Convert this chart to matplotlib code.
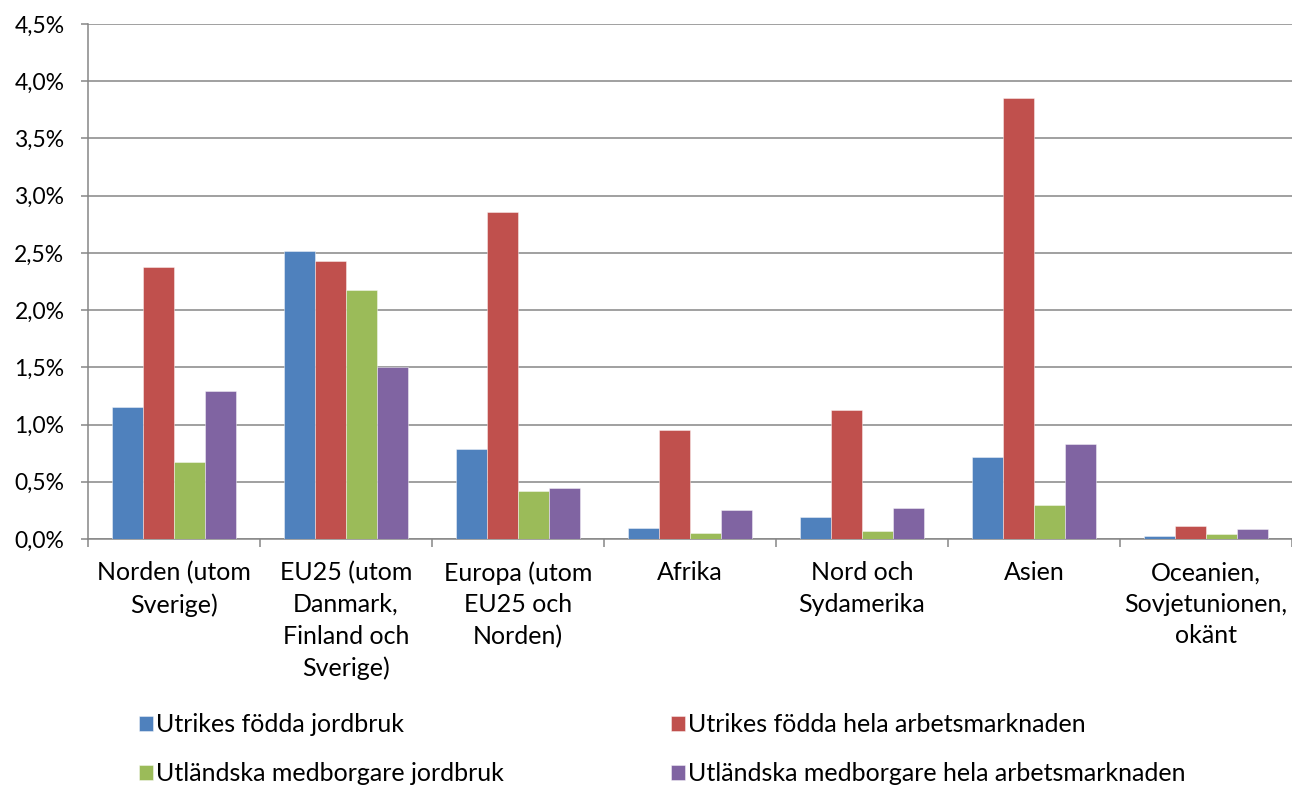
import matplotlib
matplotlib.use("Agg")
import matplotlib.pyplot as plt
from matplotlib.ticker import FuncFormatter, MultipleLocator, FixedLocator
import numpy as np

plt.rcParams['font.family'] = ['Lato', 'DejaVu Sans']

categories = [
    "Norden (utom\nSverige)",
    "EU25 (utom\nDanmark,\nFinland och\nSverige)",
    "Europa (utom\nEU25 och\nNorden)",
    "Afrika",
    "Nord och\nSydamerika",
    "Asien",
    "Oceanien,\nSovjetunionen,\nokänt",
]
series_names = [
    "Utrikes födda jordbruk",
    "Utrikes födda hela arbetsmarknaden",
    "Utländska medborgare jordbruk",
    "Utländska medborgare hela arbetsmarknaden",
]
utrikes_jordbruk = [1.15, 2.52, 0.79, 0.10, 0.19, 0.72, 0.03]
utrikes_hela = [2.38, 2.43, 2.86, 0.95, 1.13, 3.85, 0.11]
utlandska_jordbruk = [0.67, 2.18, 0.42, 0.05, 0.07, 0.30, 0.04]
utlandska_hela = [1.29, 1.50, 0.45, 0.25, 0.27, 0.83, 0.09]
colors = ["#4F81BD", "#C0504D", "#9BBB59", "#8064A2"]

W, H = 1292, 787
fig = plt.figure(figsize=(W / 100, H / 100), dpi=100)
ax = fig.add_axes([88 / W, 1 - 539 / H, (1292 - 88) / W, (539 - 24) / H])

data = [utrikes_jordbruk, utrikes_hela, utlandska_jordbruk, utlandska_hela]
x = np.arange(len(categories))
bw = 0.181
handles = []
for i, (vals, c) in enumerate(zip(data, colors)):
    b = ax.bar(x + (i - 1.5) * bw, vals, bw, color=c, edgecolor=(1, 1, 1, 0.6),
               linewidth=0.5, zorder=3, label=series_names[i])
    handles.append(b)

ax.set_xlim(-0.5, len(categories) - 0.5)
ax.set_ylim(0, 4.5)
ax.yaxis.set_major_locator(MultipleLocator(0.5))
ax.yaxis.set_major_formatter(FuncFormatter(lambda v, p: f"{v:.1f}%".replace('.', ',')))
ax.grid(axis='y', color='#868686', linewidth=1.1, zorder=0)
ax.set_axisbelow(True)

ax.set_xticks(x)
ax.set_xticklabels(categories, linespacing=1.45)
ax.xaxis.set_minor_locator(FixedLocator(np.arange(-0.5, len(categories), 1.0)))
ax.tick_params(axis='x', which='major', length=0, pad=16, labelsize=18, colors='black')
ax.tick_params(axis='x', which='minor', length=6, width=1.1, color='#868686', direction='out')
ax.tick_params(axis='y', length=5, width=1.1, color='#868686', pad=12, labelsize=16.5)

for s in ['top', 'right']:
    ax.spines[s].set_visible(False)
for s in ['left', 'bottom']:
    ax.spines[s].set_color('#868686')
    ax.spines[s].set_linewidth(1.1)

leg_kw = dict(loc='upper left', frameon=False, fontsize=18, handlelength=0.56,
              handleheight=0.56, handletextpad=0.1, labelspacing=1.05,
              borderpad=0, borderaxespad=0)
fig.legend([handles[0], handles[2]], [series_names[0], series_names[2]],
           bbox_to_anchor=(139 / W, 1 - 713 / H), **leg_kw)
fig.legend([handles[1], handles[3]], [series_names[1], series_names[3]],
           bbox_to_anchor=(671 / W, 1 - 713 / H), **leg_kw)

fig.savefig("out.png", dpi=100)
